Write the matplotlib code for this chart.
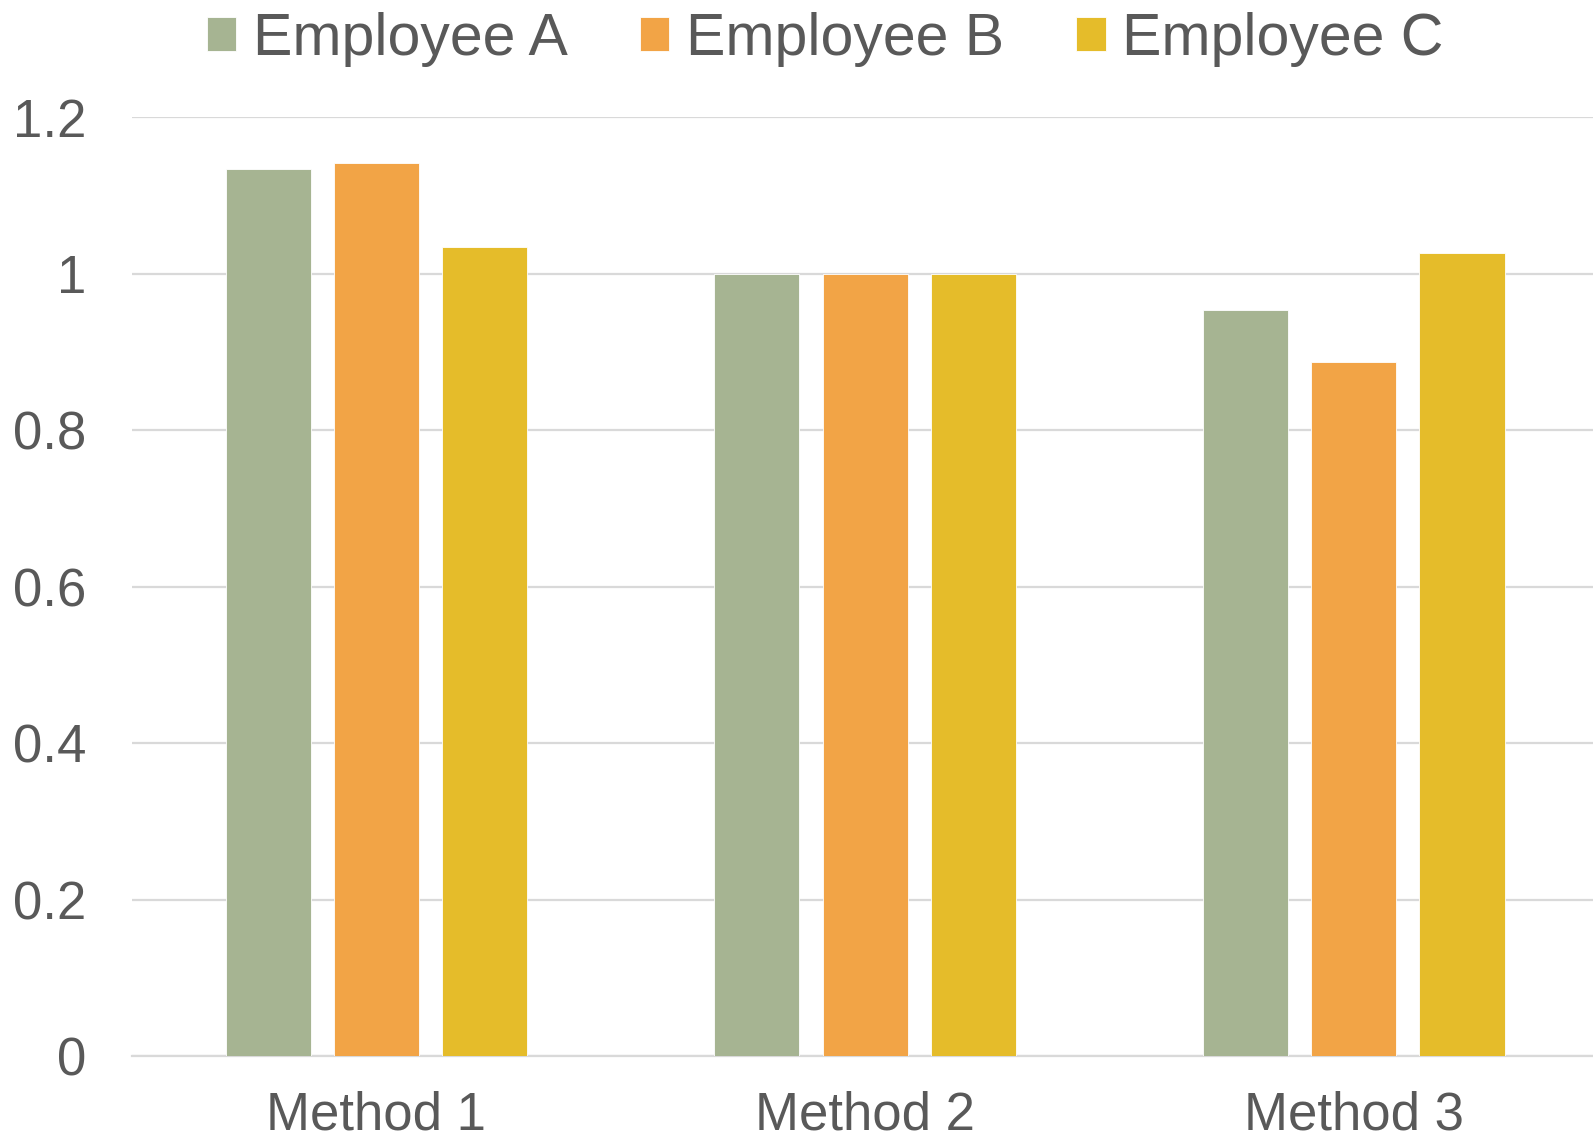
import matplotlib
matplotlib.use("Agg")
import matplotlib.pyplot as plt
import numpy as np

categories = ["Method 1", "Method 2", "Method 3"]
series_names = ["Employee A", "Employee B", "Employee C"]
employee_a = [1.134, 1.0, 0.953]
employee_b = [1.141, 1.0, 0.887]
employee_c = [1.034, 1.0, 1.026]
y_ticks = [0, 0.2, 0.4, 0.6, 0.8, 1.0, 1.2]
y_tick_labels = ["0", "0.2", "0.4", "0.6", "0.8", "1", "1.2"]

colors = ["#A6B492", "#F2A446", "#E5BC2A"]
text_color = "#595959"
grid_color = "#D9D9D9"

plt.rcParams["font.family"] = ["Liberation Sans", "DejaVu Sans"]

fig = plt.figure(figsize=(15.93, 11.42), dpi=100)
ax = fig.add_axes([0.0829, 0.0753, 0.9203, 0.8222])

x = np.arange(len(categories))
width = 0.174
step = 0.2215
for i, (vals, name) in enumerate(zip([employee_a, employee_b, employee_c], series_names)):
    ax.bar(x + (i - 1) * step, vals, width=width, color=colors[i], label=name,
           zorder=3, edgecolor="white", linewidth=0.6)

ax.set_xlim(-0.5, 2.5)
ax.set_ylim(0, 1.2)
ax.set_yticks(y_ticks)
ax.set_yticklabels(y_tick_labels)
ax.set_xticks(x)
ax.set_xticklabels(categories)

ax.yaxis.grid(True, color=grid_color, linewidth=1.6, zorder=0)
ax.set_axisbelow(True)
for side in ["top", "right", "left"]:
    ax.spines[side].set_visible(False)
ax.spines["bottom"].set_color(grid_color)
ax.spines["bottom"].set_linewidth(1.6)
ax.spines["bottom"].set_zorder(0)

ax.tick_params(axis="both", length=0, labelsize=38, labelcolor=text_color)
ax.tick_params(axis="y", pad=33)
ax.tick_params(axis="x", pad=25)

leg = fig.legend(loc="upper center", bbox_to_anchor=(0.518, 1.01), ncol=3,
                 frameon=False, fontsize=42.5, handlelength=0.5, handleheight=0.5,
                 handletextpad=0.28, columnspacing=1.22, borderaxespad=0)
for t in leg.get_texts():
    t.set_color(text_color)

fig.savefig("out.png", dpi=100, facecolor="white")
